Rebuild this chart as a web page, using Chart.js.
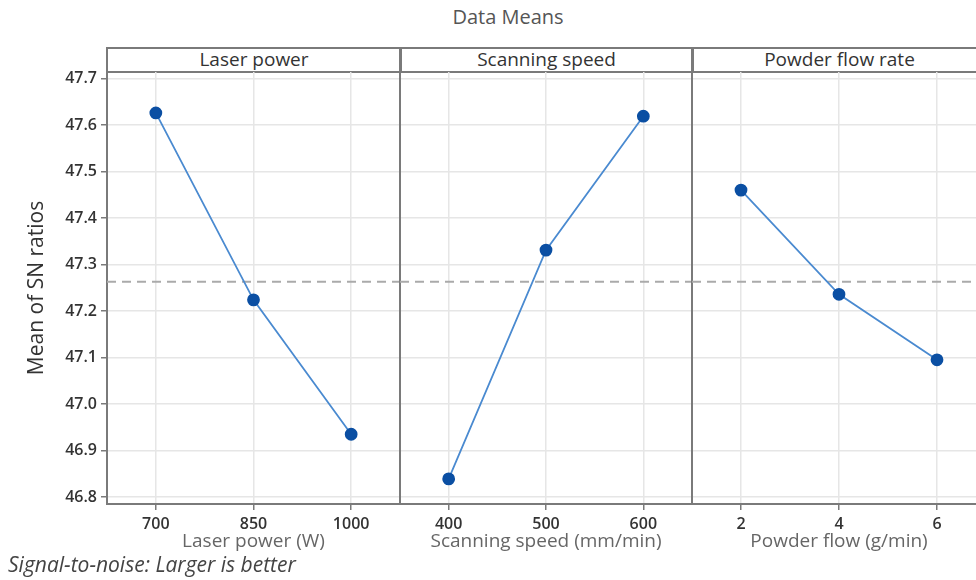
<!DOCTYPE html>
<html>
<head>
<meta charset="utf-8">
<script src="https://cdn.jsdelivr.net/npm/chart.js@4"></script>
<style>
  html, body { margin: 0; padding: 0; background: #fff; overflow: hidden; }
  body { width: 976px; height: 580px; position: relative; font-family: "Open Sans", "Noto Sans", sans-serif; }
  canvas { position: absolute; top: 0; }
  .strip { position: absolute; top: 47px; height: 26px; box-sizing: border-box; border: 2px solid #7a7a7a;
           text-align: center; font-size: 19px; line-height: 21px; color: #333; }
  #title { position: absolute; top: 3px; left: 0; width: 1016px; text-align: center; font-size: 20px; color: #555; }
  #foot { position: absolute; left: 8px; top: 550px; font-size: 21px; font-style: italic; color: #444; }
</style>
</head>
<body>
<div id="title">Data Means</div>
<div class="strip" style="left:106px;width:296px">Laser power</div>
<div class="strip" style="left:399px;width:295px">Scanning speed</div>
<div class="strip" style="left:691px;width:297px">Powder flow rate</div>
<canvas id="c1" width="402" height="553" style="left:0px"></canvas>
<canvas id="c2" width="296" height="553" style="left:396px"></canvas>
<canvas id="c3" width="298" height="553" style="left:688px"></canvas>
<div id="foot">Signal-to-noise: Larger is better</div>
<script>
// factor levels
var laserPower = ['700', '850', '1000'];
var scanSpeed = ['400', '500', '600'];
var powderFlow = ['2', '4', '6'];

// mean of SN ratios for each level
var laserSN = [47.626, 47.224, 46.935];
var scanSN = [46.839, 47.331, 47.619];
var powderSN = [47.460, 47.236, 47.095];

var yMin = 46.785, yMax = 47.714;

var allSN = laserSN.concat(scanSN, powderSN);
var grandMean = allSN.reduce(function (a, b) { return a + b; }, 0) / allSN.length;

var FONT = '"Open Sans", "Noto Sans", sans-serif';
var AXIS = '#7a7a7a';
var GRID = '#e6e6e6';

function makePanel(id, labels, values, xTitle, first) {
  var ctx = document.getElementById(id).getContext('2d');
  return new Chart(ctx, {
    type: 'line',
    data: {
      labels: labels,
      datasets: [
        {
          data: values,
          borderColor: '#4a8ad0',
          borderWidth: 1.8,
          pointBackgroundColor: '#0b4fa3',
          pointBorderColor: '#0b4fa3',
          pointRadius: 5.5,
          pointHoverRadius: 5.5,
          tension: 0
        },
        {
          // grand mean reference line across the whole panel
          data: [{ x: 0, y: grandMean }, { x: 1, y: grandMean }],
          xAxisID: 'xm',
          borderColor: '#aaaaaa',
          borderWidth: 2,
          borderDash: [9, 6],
          pointRadius: 0
        }
      ]
    },
    options: {
      responsive: false,
      animation: false,
      layout: {
        autoPadding: false,
        padding: { top: 72, left: first ? 0 : 4, right: first ? 2 : 0, bottom: 0 }
      },
      plugins: { legend: { display: false }, tooltip: { enabled: false } },
      scales: {
        x: {
          type: 'category',
          offset: true,
          grid: { offset: false, color: GRID, lineWidth: 1.5, tickColor: AXIS, tickLength: 6 },
          border: { color: AXIS, width: 2 },
          ticks: { color: '#333', padding: 5, font: { family: FONT, size: 16, weight: '600' } },
          title: { display: true, text: xTitle, color: '#666', padding: 0, font: { family: FONT, size: 19 } },
          afterFit: function (s) { s.height = 49; }
        },
        xm: { type: 'linear', display: false, min: 0, max: 1 },
        y: {
          min: yMin,
          max: yMax,
          grid: { color: GRID, lineWidth: 1.5, drawTicks: first, tickColor: AXIS, tickLength: 6 },
          border: { color: AXIS, width: 2 },
          ticks: {
            display: first,
            stepSize: 0.1,
            includeBounds: false,
            color: '#333',
            padding: 4,
            font: { family: FONT, size: 16, weight: '600' },
            callback: function (v) { return v.toFixed(1); }
          },
          title: {
            display: first,
            text: 'Mean of SN ratios',
            color: '#333',
            padding: { top: 24, bottom: 0 },
            font: { family: FONT, size: 21 }
          },
          afterFit: function (s) { s.width = first ? 107 : 0; }
        }
      }
    }
  });
}

makePanel('c1', laserPower, laserSN, 'Laser power (W)', true);
makePanel('c2', scanSpeed, scanSN, 'Scanning speed (mm/min)', false);
makePanel('c3', powderFlow, powderSN, 'Powder flow (g/min)', false);
</script>
</body>
</html>
